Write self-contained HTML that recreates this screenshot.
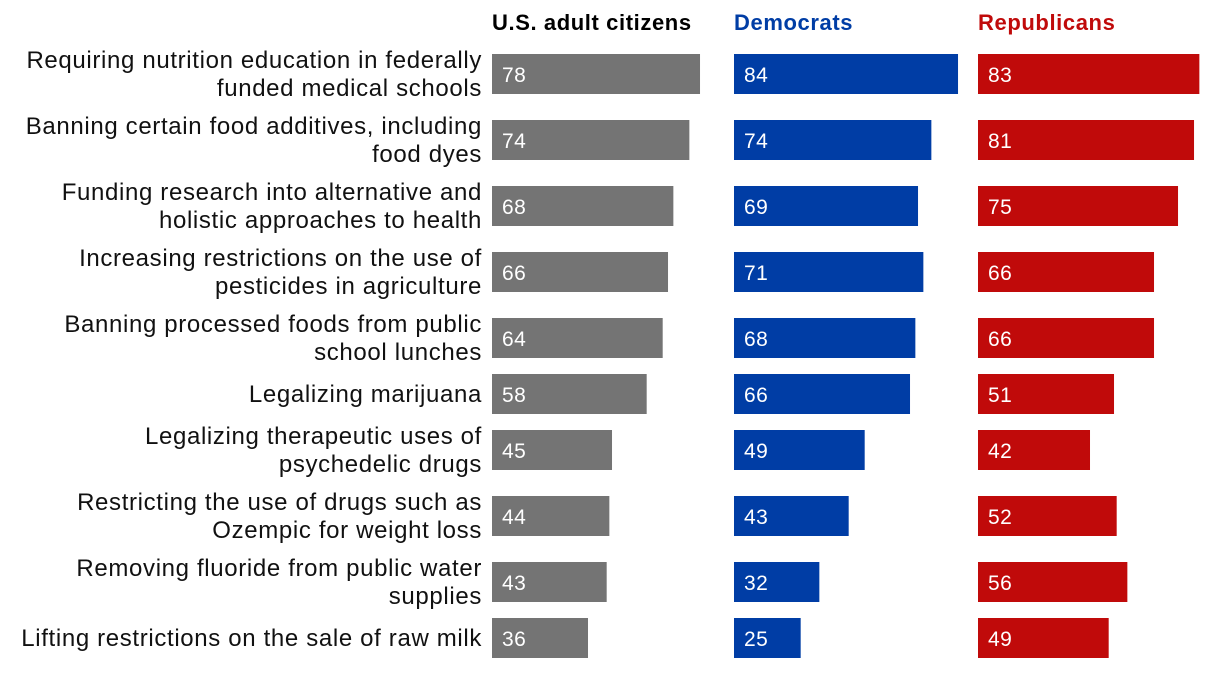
<!DOCTYPE html>
<html><head><meta charset="utf-8"><style>
body{margin:0;background:#fff;width:1220px;height:670px;overflow:hidden;font-family:"Liberation Sans",sans-serif}
svg text{font-family:"Liberation Sans",sans-serif}
</style></head><body>
<svg id="chart" width="1220" height="670" xmlns="http://www.w3.org/2000/svg"></svg>
<script>
const categories=[
["Requiring nutrition education in federally","funded medical schools"],
["Banning certain food additives, including","food dyes"],
["Funding research into alternative and","holistic approaches to health"],
["Increasing restrictions on the use of","pesticides in agriculture"],
["Banning processed foods from public","school lunches"],
["Legalizing marijuana"],
["Legalizing therapeutic uses of","psychedelic drugs"],
["Restricting the use of drugs such as","Ozempic for weight loss"],
["Removing fluoride from public water","supplies"],
["Lifting restrictions on the sale of raw milk"]];
const allAdults=[78,74,68,66,64,58,45,44,43,36];
const democrats=[84,74,69,71,68,66,49,43,32,25];
const republicans=[83,81,75,66,66,51,42,52,56,49];
const seriesNames=["U.S. adult citizens","Democrats","Republicans"];

const svg=document.getElementById('chart');
const NS="http://www.w3.org/2000/svg";
const panels=[{x0:492,color:"#747474",head:"#000",data:allAdults,key:"adults"},
{x0:734,color:"#003DA5",head:"#003DA5",data:democrats,key:"democrats"},
{x0:978,color:"#C00A0A",head:"#C00A0A",data:republicans,key:"republicans"}];
const scale=2.667;
function xw(v){return v*scale;}
const barH=40;
function mk(tag,attrs,text){const e=document.createElementNS(NS,tag);for(const k in attrs)e.setAttribute(k,attrs[k]);if(text!==undefined)e.textContent=text;svg.appendChild(e);return e;}
panels.forEach((p,i)=>{
 const t=mk('text',{x:p.x0,y:30,'font-size':22,'font-weight':'bold',fill:p.head,'letter-spacing':0.6},seriesNames[i]);
 
 
});
let y=54;
categories.forEach((lines,r)=>{
 const cy=y+barH/2;
 const lbl=mk('text',{x:482,'text-anchor':'end','font-size':24,fill:'#111','letter-spacing':0.65});
 
 
 lines.forEach((ln,j)=>{
  const ts=document.createElementNS(NS,'tspan');
  ts.setAttribute('x',482);
  ts.setAttribute('y',cy+8+(j-(lines.length-1)/2)*28);
  ts.textContent=ln;lbl.appendChild(ts);
 });
 panels.forEach(p=>{
  const v=p.data[r];
  const b=mk('rect',{x:p.x0,y:y,width:xw(v),height:barH,fill:p.color});
  
  
  const vt=mk('text',{x:p.x0+10,y:cy+8,'font-size':21,fill:'#fff','letter-spacing':0.5},String(v));
  
  
 });
 const next=categories[r+1];
 y+= (lines.length>1 && next && next.length>1)?66:56;
});
</script>
</body></html>
